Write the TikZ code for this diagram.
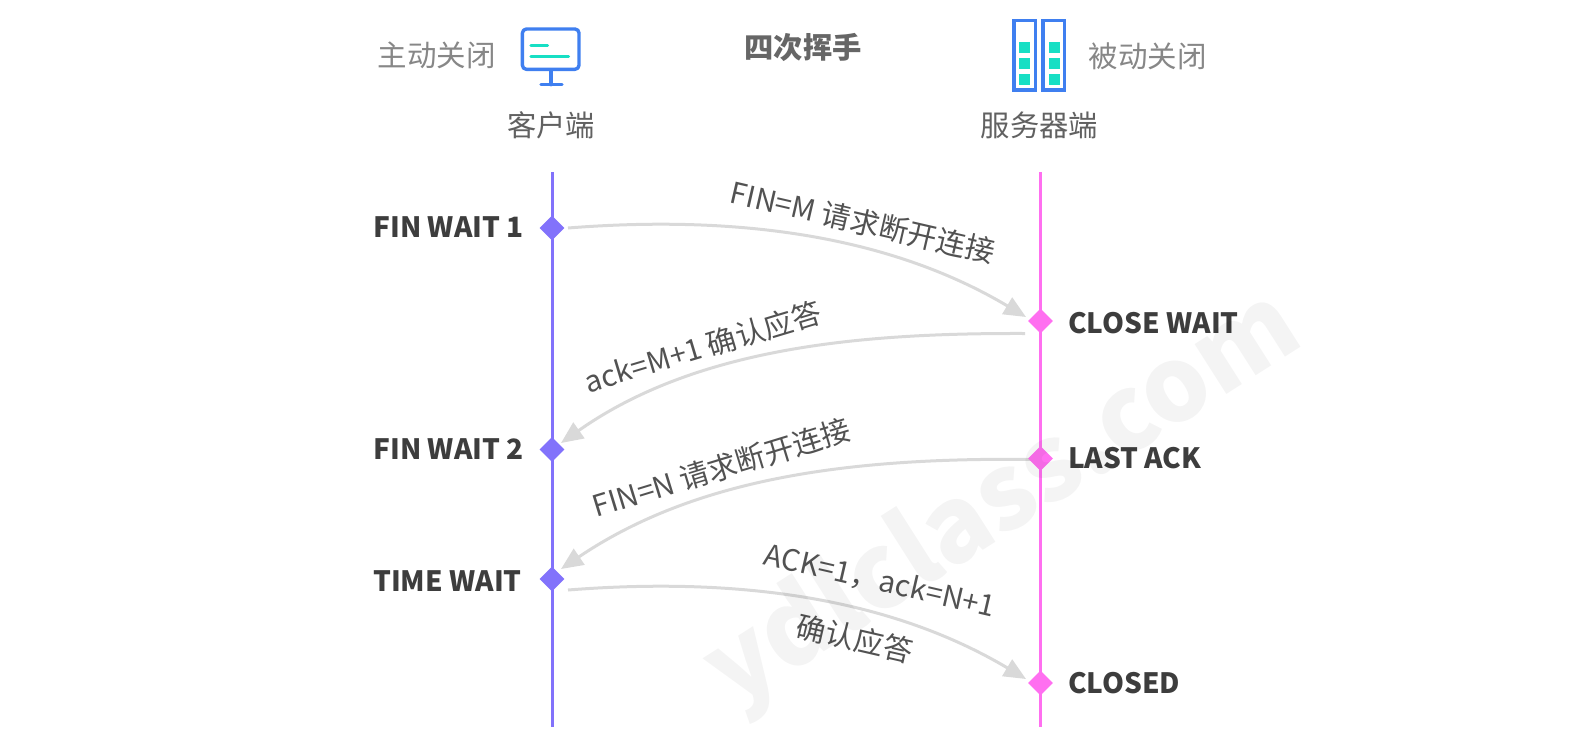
\documentclass[tikz,border=0pt]{standalone}
\usepackage{fontspec}
\setmainfont{Noto Sans CJK SC}
\usetikzlibrary{arrows.meta,shapes.geometric}
\definecolor{iconblue}{HTML}{3F7FF0}
\definecolor{iconteal}{HTML}{17DFC4}
\definecolor{leftline}{HTML}{8272FB}
\definecolor{rightline}{HTML}{FF6FF0}
\definecolor{arrowgray}{HTML}{D9D9D9}
\tikzset{
  sidetext/.style={font=\fontsize{29.5}{32}\selectfont,text=black!47,inner sep=0pt},
  endtext/.style={font=\fontsize{29.3}{32}\selectfont,text=black!62,inner sep=0pt},
  titletext/.style={font=\fontsize{29.3}{32}\selectfont\bfseries,text=black!60,inner sep=0pt},
  statetext/.style={font=\fontsize{28}{30}\selectfont\bfseries,text=black!76,inner sep=0pt},
  msgtext/.style={font=\fontsize{29.5}{32}\selectfont,text=black!68,inner sep=0pt},
  lifeline/.style={line width=3pt},
  marker/.style={diamond,aspect=1,inner sep=0pt,minimum size=25pt,draw=none},
  msg/.style={line width=3pt,arrowgray,-{Triangle[length=22pt,width=19pt]}},
  iconline/.style={line width=3.4pt,iconblue,line cap=round,line join=round},
  tealline/.style={line width=3.4pt,iconteal,line cap=round},
}
\begin{document}
\begin{tikzpicture}[x=1pt,y=-1pt]
\useasboundingbox (0,0) rectangle (1587,753);
% lifelines
\coordinate (ltop) at (552,172); \coordinate (lbot) at (552,727);
\coordinate (rtop) at (1040.5,172); \coordinate (rbot) at (1040.5,727);
\draw[lifeline,leftline] (ltop) -- (lbot);
\draw[lifeline,rightline] (rtop) -- (rbot);
% message ends
\coordinate (a1) at (568,228); \coordinate (b1) at (1026,317);
\coordinate (a2) at (1025,333.5); \coordinate (b2) at (561,443);
\coordinate (a3) at (1040,459.5); \coordinate (b3) at (561,569);
\coordinate (a4) at (568,590); \coordinate (b4) at (1026,679);
\draw[msg] (a1) .. controls (720,216) and (880,230) .. (b1);
\draw[msg] (a2) .. controls (870,333) and (700,345) .. (b2);
\draw[msg] (a3) .. controls (860,457) and (700,475) .. (b3);
\draw[msg] (a4) .. controls (720,578) and (880,592) .. (b4);
% markers
\node[marker,fill=leftline] (l1) at (552,228) {};
\node[marker,fill=leftline] (l2) at (552,449.5) {};
\node[marker,fill=leftline] (l3) at (552,579) {};
\node[marker,fill=rightline] (r1) at (1040.5,321) {};
\node[marker,fill=rightline] (r2) at (1040.5,458.5) {};
\node[marker,fill=rightline] (r3) at (1040.5,683) {};
% state labels
\node[statetext,anchor=east] (s1) at (524,227) {FIN WAIT 1};
\node[statetext,anchor=east] (s2) at (524,449) {FIN WAIT 2};
\node[statetext,anchor=east] (s3) at (522,581) {TIME WAIT};
\node[statetext,anchor=west] (s4) at (1068,323) {CLOSE WAIT};
\node[statetext,anchor=west] (s5) at (1068,458) {LAST ACK};
\node[statetext,anchor=west] (s6) at (1068,683) {CLOSED};
% message labels
\node[msgtext,rotate=-13] (m1) at (863,222) {FIN=M 请求断开连接};
\node[msgtext,rotate=16.7] (m2) at (703,347) {ack=M+1 确认应答};
\node[msgtext,rotate=17] (m3) at (721.6,467.6) {FIN=N 请求断开连接};
\node[msgtext,rotate=-13] (m4) at (880,581) {ACK=1，ack=N+1};
\node[msgtext,rotate=-13] (m5) at (855,638.6) {确认应答};
% header
\node[sidetext] (t1) at (436.6,55.7) {主动关闭};
\node[sidetext] (t2) at (1147.5,56) {被动关闭};
\node[titletext] (t3) at (803,47.5) {四次挥手};
\node[endtext] (t4) at (551,125) {客户端};
\node[endtext] (t5) at (1039.5,125) {服务器端};
% client icon
\draw[iconline,rounded corners=4pt] (522.4,29) rectangle (579,69.3);
\draw[iconline] (551,71) -- (551,84.7);
\draw[iconline] (541,84.7) -- (562,84.7);
\draw[tealline] (531,45.3) -- (547.5,45.3);
\draw[tealline] (531,56.7) -- (568.5,56.7);
% server icon
\draw[line width=3.2pt,iconblue] (1013.9,20.6) rectangle (1035.4,90);
\draw[line width=3.2pt,iconblue] (1042.9,20.6) rectangle (1064.7,90);
\foreach \cx in {1024.7,1054}{\foreach \cy in {47.3,63,79}{
  \fill[iconteal] (\cx-5.5,\cy-5.5) rectangle (\cx+5.5,\cy+5.5);}}
% watermark
\node[font=\fontsize{104}{114}\selectfont\bfseries,text=black,text opacity=0.045,rotate=32.5,inner sep=0pt] (wm) at (1004,501) {ydlclass.com};
\end{tikzpicture}
\end{document}
